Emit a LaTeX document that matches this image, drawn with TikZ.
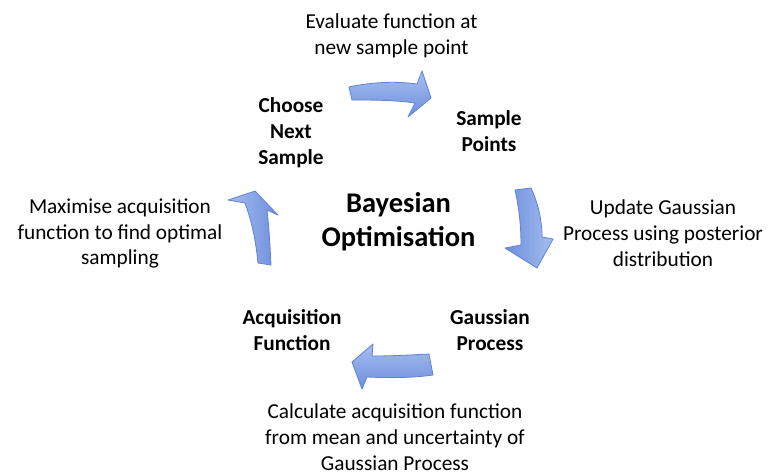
\documentclass[tikz,border=0pt]{standalone}
\usepackage{fontspec}
\setmainfont{Carlito}
\begin{document}
\begin{tikzpicture}[x=1pt,y=-1pt,
  lbl/.style={inner sep=0pt, align=center, font=\fontsize{21.3}{25.8}\selectfont},
  blbl/.style={lbl, font=\fontsize{21.3}{26}\selectfont\bfseries},
  title/.style={inner sep=0pt, align=center, font=\fontsize{28.5}{34}\selectfont\bfseries},
  blockarrow/.style={draw={rgb,255:red,96;green,130;blue,212}, line width=0.8pt, line join=round}
]
\useasboundingbox (0,0) rectangle (769,475);
\fill[white] (0,0) rectangle (769,475);

% curved block arrows
\shade[blockarrow, top color={rgb,255:red,168;green,192;blue,240}, bottom color={rgb,255:red,108;green,142;blue,220}]
  (349,87) .. controls (372,82) and (396,81) .. (417,84) -- (422,71) -- (431,98) -- (408,117) -- (415,103)
  .. controls (394,100) and (372,100) .. (352,100) -- cycle;
\shade[blockarrow, left color={rgb,255:red,108;green,142;blue,220}, right color={rgb,255:red,165;green,190;blue,240}]
  (515,190) -- (531,188) .. controls (538,203) and (542,220) .. (542,237) -- (553,239) -- (537,268) -- (505,248) -- (521,245)
  .. controls (521,226) and (519,207) .. (515,190) -- cycle;
\shade[blockarrow, top color={rgb,255:red,165;green,190;blue,240}, bottom color={rgb,255:red,108;green,142;blue,220}]
  (429,354) -- (433,375) .. controls (412,378) and (390,378) .. (367,377) -- (362,389) -- (352,362) -- (373,344) -- (372,356)
  .. controls (392,356) and (411,355) .. (429,354) -- cycle;
\shade[blockarrow, left color={rgb,255:red,165;green,190;blue,240}, right color={rgb,255:red,108;green,142;blue,220}]
  (258,263) -- (271,265) .. controls (270,245) and (269,227) .. (267,210) -- (278,215) -- (255,191) -- (228,200) -- (245,203)
  .. controls (252,222) and (256,242) .. (258,263) -- cycle;

% labels
\node[title] (bo) at (398.5,222) {Bayesian\\Optimisation};
\node[blbl] (cns) at (291,133) {Choose\\Next\\Sample};
\node[blbl] (sp) at (489,130.75) {Sample\\Points};
\node[blbl] (gp) at (490,329.75) {Gaussian\\Process};
\node[blbl] (af) at (292,329.75) {Acquisition\\Function};
\node[lbl] (ev) at (391.5,36) {Evaluate function at\\new sample point};
\node[lbl] (up) at (663,233.25) {Update Gaussian\\Process using posterior\\distribution};
\node[lbl] (ca) at (395,437) {Calculate acquisition function\\from mean and uncertainty of\\Gaussian Process};
\node[lbl] (mx) at (120,233.5) {Maximise acquisition\\function to find optimal\\sampling};
\end{tikzpicture}
\end{document}
